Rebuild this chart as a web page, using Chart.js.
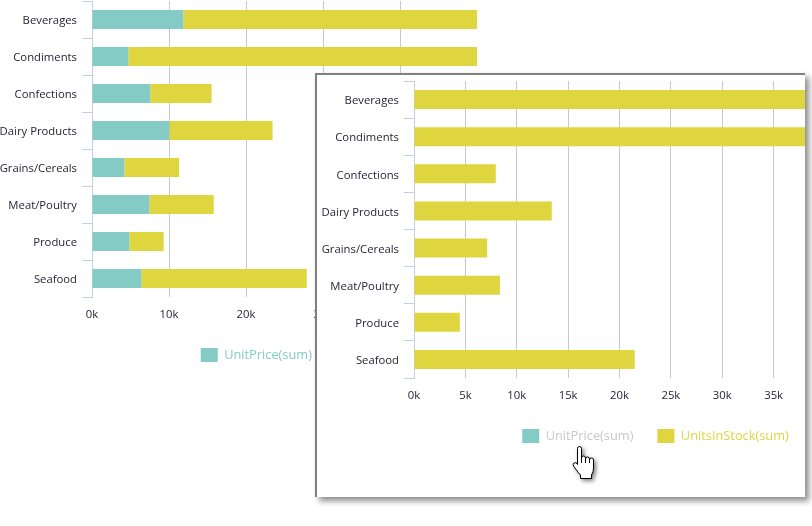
<!DOCTYPE html>
<html><head><meta charset="utf-8">
<script src="https://cdn.jsdelivr.net/npm/chart.js@4/dist/chart.umd.min.js"></script>
<style>
html,body{margin:0;padding:0;background:#fff;width:812px;height:526px;overflow:hidden;position:relative}
#bgWrap{position:absolute;left:0;top:0;width:668px;height:372px}
#ovBox{position:absolute;left:315px;top:73px;width:488px;height:422px;border-left:2px solid #808080;border-top:2px solid #808080;background:#fff;overflow:hidden;box-shadow:4px 4px 6px rgba(0,0,0,0.45)}
#ovWrap{position:absolute;left:0;top:0;width:677px;height:378px}
#hand{position:absolute;left:572px;top:446px;width:24px;height:34px;filter:drop-shadow(2px 2px 2px rgba(0,0,0,0.5))}
</style></head><body>
<div id="bgWrap"><canvas id="bg"></canvas></div>
<div id="ovBox"><div id="ovWrap"><canvas id="ov"></canvas></div></div>
<svg id="hand" viewBox="0 0 24 34"><path d="M5.5,2.5 Q5.5,0.5 7.5,0.5 Q9.5,0.5 9.5,2.5 L9.5,12 Q9.5,10 11.5,10 Q13.5,10 13.5,12 L13.5,13 Q13.5,11 15.5,11 Q17.5,11 17.5,13 L17.5,14 Q17.5,12 19.5,12 Q21.5,12 21.5,14 L21.5,22 Q21.5,26 19.5,29 L19.5,32.5 L8.5,32.5 L8.5,29 Q6.5,27 4.5,24 L1.5,20 Q0.5,18 2,17 Q3.5,16.2 5,17.5 L5.5,18.5 Z M9.5,12 L9.5,17 M13.5,13 L13.5,17 M17.5,14 L17.5,17" fill="#fff" stroke="#000" stroke-width="1"/></svg>
<script>
const categories = ['Beverages','Condiments','Confections','Dairy Products','Grains/Cereals','Meat/Poultry','Produce','Seafood'];
const unitPriceSum = [11860, 4720, 7570, 10040, 4200, 7450, 4850, 6410];
const unitsInStockSum = [40000, 46000, 7960, 13410, 7120, 8360, 4460, 21480];
const seriesNames = ['UnitPrice(sum)','UnitsInStock(sum)'];
const seriesColors = ['#83cbc4','#dfd63f'];
const bgTickValues = [0, 10000, 20000, 30000, 40000, 50000];
const ovTickValues = [0, 5000, 10000, 15000, 20000, 25000, 30000, 35000, 40000];

const FONT = 'Open Sans';
const AXIS_FS = 11.3, LEG_FS = 12.8;
Chart.defaults.font.family = FONT;
Chart.defaults.color = '#262636';
Chart.defaults.animation = false;

function kfmt(v){ return (v/1000) + 'k'; }

function legendLabels(hiddenIdx){
  return function(chart){
    return chart.data.datasets.map((ds, i) => ({
      text: ds.label,
      fillStyle: ds.backgroundColor,
      strokeStyle: ds.backgroundColor,
      lineWidth: 0,
      hidden: false,
      fontColor: hiddenIdx.includes(i) ? '#c8c8c8' : ds.backgroundColor,
      datasetIndex: i
    }));
  };
}

function makeChart(id, opts){
  const datasets = [
    {label: seriesNames[0], data: unitPriceSum, backgroundColor: seriesColors[0], borderWidth: 0, hidden: opts.hidePrice, categoryPercentage: 1, barPercentage: 0.515},
    {label: seriesNames[1], data: unitsInStockSum, backgroundColor: seriesColors[1], borderWidth: 0, categoryPercentage: 1, barPercentage: 0.515}
  ];
  return new Chart(document.getElementById(id), {
    type: 'bar',
    data: {labels: categories, datasets},
    options: {
      indexAxis: 'y',
      responsive: true,
      maintainAspectRatio: false,
      devicePixelRatio: 1,
      layout: {padding: {top: opts.padTop, left: 0, right: 0, bottom: 0}},
      plugins: {
        tooltip: {enabled: false},
        legend: {
          position: 'bottom',
          labels: {boxWidth: 17, boxHeight: 14, padding: 24, font: {size: LEG_FS}, generateLabels: legendLabels(opts.hidePrice ? [0] : [])}
        }
      },
      scales: {
        x: {
          type: 'linear', stacked: true, min: 0, max: opts.max,
          afterBuildTicks: s => { s.ticks = opts.ticks.map(v => ({value: v})); },
          afterFit: s => { s.height = 27; s.paddingLeft = 0; s.paddingRight = 0; },
          ticks: {callback: kfmt, padding: 11, font: {size: AXIS_FS}, maxRotation: 0, autoSkip: false},
          grid: {drawTicks: false, color: c => (c.tick && c.tick.value === opts.hideGrid) ? 'rgba(0,0,0,0)' : '#c8c8c8'},
          border: {display: false}
        },
        y: {
          type: 'category', stacked: true,
          afterFit: s => { s.width = opts.yWidth; s.paddingTop = 0; s.paddingBottom = 0; },
          ticks: {padding: 5, labelOffset: 1.5, font: {size: AXIS_FS}},
          grid: {drawOnChartArea: false, tickLength: 10, color: '#c3cfe0', offset: true},
          border: {color: '#c3cfe0'}
        },
        yr: {
          type: 'category', position: 'right', labels: categories,
          afterFit: s => { s.width = opts.rightWidth; s.paddingTop = 0; s.paddingBottom = 0; },
          ticks: {display: false}, grid: {display: false}, border: {display: false}
        }
      }
    }
  });
}

makeChart('bg', {hidePrice: false, padTop: 1, max: 50000, ticks: bgTickValues, hideGrid: 50000, yWidth: 92, rightWidth: 191});
makeChart('ov', {hidePrice: true, padTop: 6, max: 40000, ticks: ovTickValues, hideGrid: -1, yWidth: 97, rightWidth: 169});
</script>
</body></html>
